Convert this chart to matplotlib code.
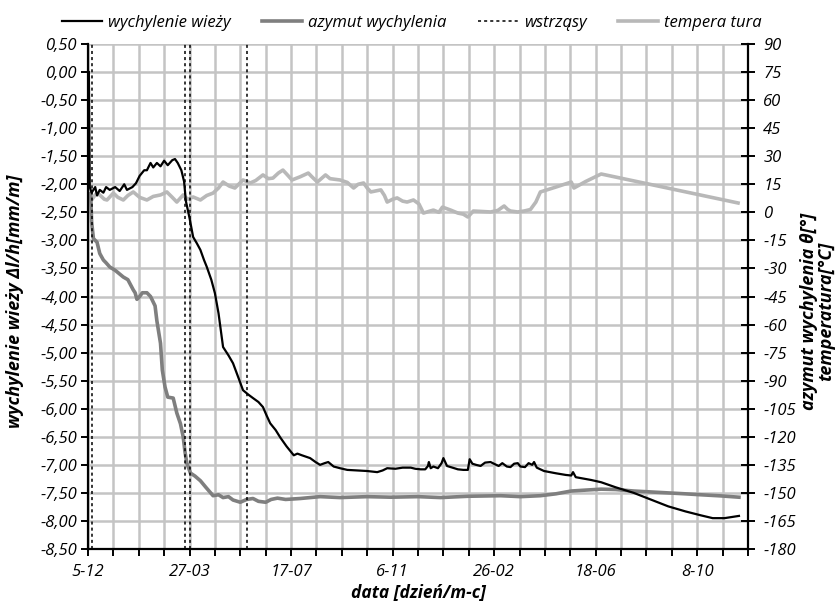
import matplotlib
matplotlib.use('Agg')
import matplotlib.pyplot as plt
import pandas as pd

# dni liczone od 5-12 (os X)
START = pd.Timestamp('2004-12-05')

tilt_days = [1, 2, 4, 8, 10, 13, 17, 20, 24, 30, 35, 40, 43, 49, 53, 57, 62, 65, 69, 72,
             76, 80, 84, 88, 93, 96, 99, 103, 106, 108, 112, 116, 120, 124, 128, 131, 136, 140,
             144, 146, 149, 155, 160, 166, 171, 177, 182, 188, 193, 197, 201, 207, 212, 219,
             227, 231, 236, 245, 251, 256, 261, 265, 271, 278, 286, 297, 308, 319, 325, 330,
             339, 347, 356, 361, 367, 372, 375, 376, 378, 381, 386, 390, 392, 396, 400, 408,
             414, 419, 421, 424, 428, 433, 438, 444, 449, 453, 457, 462, 466, 470, 474, 477,
             482, 486, 490, 492, 495, 503, 516, 527, 533, 535, 538, 555, 566, 582, 602, 621,
             640, 659, 676, 689, 702, 710, 718]
tilt = [0.00, -2.05, -2.15, -2.05, -2.20, -2.10, -2.15, -2.05, -2.10, -2.05, -2.12, -2.00,
        -2.10, -2.05, -1.98, -1.85, -1.75, -1.75, -1.62, -1.70, -1.62, -1.68, -1.58, -1.66,
        -1.57, -1.55, -1.62, -1.75, -1.95, -2.30, -2.60, -2.94, -3.05, -3.17, -3.35, -3.47,
        -3.70, -3.94, -4.30, -4.54, -4.90, -5.05, -5.19, -5.45, -5.67, -5.75, -5.81, -5.88,
        -5.97, -6.12, -6.26, -6.38, -6.51, -6.67, -6.83, -6.80, -6.83, -6.88, -6.95, -7.00,
        -6.97, -6.95, -7.03, -7.06, -7.09, -7.10, -7.11, -7.13, -7.10, -7.06, -7.07, -7.05,
        -7.05, -7.07, -7.08, -7.08, -7.02, -6.95, -7.06, -7.03, -7.06, -6.97, -6.88, -7.02,
        -7.04, -7.08, -7.09, -7.09, -6.90, -6.98, -7.00, -7.02, -6.96, -6.95, -6.99, -7.02,
        -6.97, -7.03, -7.04, -6.98, -6.97, -7.03, -7.04, -6.97, -7.00, -6.95, -7.05, -7.11,
        -7.15, -7.18, -7.19, -7.13, -7.22, -7.27, -7.31, -7.40, -7.50, -7.62, -7.74, -7.83,
        -7.90, -7.95, -7.95, -7.93, -7.91]

azim_days = [3, 4, 6, 10, 13, 17, 20, 24, 30, 35, 39, 44, 50, 52, 54, 57, 60, 65, 69, 71,
             74, 76, 80, 82, 85, 88, 94, 98, 102, 105, 107, 109, 113, 118, 124, 130, 138, 144,
             149, 155, 160, 168, 175, 182, 188, 196, 202, 209, 218, 234, 256, 278, 308, 334,
             364, 389, 419, 455, 477, 499, 516, 533, 549, 566, 582, 602, 621, 640, 659, 676,
             698, 718]
azim = [10, -5, -14, -16, -22, -25.5, -27, -29.2, -31, -33, -34.6, -36, -41.5, -43, -46.5,
        -45, -43, -43, -45, -47, -50, -58, -70, -84.3, -93.4, -98.8, -99.3, -107.3, -113,
        -120, -128, -134, -139.4, -141, -143.5, -147, -151.5, -151, -152.5, -152, -153.8,
        -155, -153.5, -153, -154.5, -155, -153.5, -152.8, -153.5, -153, -152, -152.5, -152,
        -152.3, -152, -152.5, -151.8, -151.5, -152, -151.5, -150.5, -149, -148.5, -148,
        -148.2, -149, -149.5, -150, -150.5, -151, -151.6, -152.3]

temp_days = [2, 4, 9, 13, 18, 21, 28, 33, 39, 44, 50, 57, 65, 72, 80, 87, 93, 98, 105, 110,
             116, 124, 131, 138, 144, 149, 156, 162, 171, 179, 185, 193, 199, 204, 210, 215,
             220, 225, 234, 243, 247, 253, 262, 267, 278, 286, 293, 298, 304, 308, 312, 323,
             327, 330, 336, 341, 347, 352, 359, 365, 370, 376, 381, 387, 391, 400, 408, 414,
             419, 425, 433, 444, 452, 459, 463, 466, 474, 481, 488, 494, 499, 516, 533, 536,
             549, 566, 717]
temp = [9, 6.6, 10, 9.3, 7, 6.6, 10.3, 8, 6.6, 9, 10.9, 8, 6.6, 8.5, 9.3, 10.9, 8, 5.5, 9.3,
        7, 8.2, 6.6, 9, 10.3, 13, 16.2, 14, 13, 17.3, 15.7, 17, 20, 18, 18.3, 21, 22.6, 20,
        17.3, 19, 21, 19, 16.2, 20, 18, 17.3, 16, 13, 15, 15.7, 13, 10.9, 12, 9, 5.5, 7, 7.7,
        6, 5.5, 6.6, 4.5, -0.4, 0.5, 1.2, 0, 2.8, 1.2, -0.4, -1, -2.5, 0.7, 0.5, 0.2, 1, 3.4,
        1.5, 0.7, 0.2, 0.7, 1.5, 5.5, 10.9, 13.5, 16.2, 13, 16.5, 20.5, 5]

quake_days = [4, 107, 113, 175]

left_ticks = [0.5 - 0.5 * i for i in range(19)]
right_ticks = list(range(90, -181, -15))
n_weeks = 26          # siatka co 28 dni
label_every = 4       # podpis co 112 dni


def to_dates(days):
    return START + pd.to_timedelta(days, unit='D')


plt.rcParams['font.family'] = ['Open Sans', 'DejaVu Sans']
plt.rcParams['font.style'] = 'italic'
plt.rcParams['font.size'] = 11.5

fig = plt.figure(figsize=(8.37, 6.01), dpi=100)
ax2 = fig.add_axes([0.1051, 0.0865, 0.7886, 0.8403])
ax = ax2.twinx()
ax.set_zorder(3)
ax.patch.set_visible(False)
ax.xaxis.set_visible(True)

grid_col = '#c4c4c4'
# tilt on left axis (ax, front), azimuth and temperature on right axis (ax2, back)
ax2.yaxis.tick_right()
ax2.yaxis.set_label_position('right')
ax.yaxis.tick_left()
ax.yaxis.set_label_position('left')

ax2.plot(to_dates(temp_days), temp, color='#b8b8b8', lw=2.6, solid_joinstyle='round')
ax2.plot(to_dates(azim_days), azim, color='#7f7f7f', lw=2.6, solid_joinstyle='round')
ax.plot(to_dates(tilt_days), tilt, color='black', lw=1.6)
for d in quake_days:
    ax.axvline(to_dates([d])[0], color='black', ls=(0, (2, 2)), lw=1.1)

xt = to_dates([28 * i for i in range(n_weeks + 1)])
ax.set_xlim(xt[0], xt[-1])
ax.set_xticks(xt)
ax.set_xticklabels([f"{t.day}-{t.month:02d}" if i % label_every == 0 else ''
                    for i, t in enumerate(xt)])

ax.set_ylim(-8.5, 0.5)
ax.set_yticks(left_ticks)
ax.set_yticklabels([f"{v:.2f}".replace('.', ',') for v in left_ticks])
ax2.set_ylim(-180, 90)
ax2.set_yticks(right_ticks)
ax2.set_yticklabels([str(v) for v in right_ticks])

# grid on the back axes
ax2.xaxis.set_visible(True)
ax2.tick_params(axis='x', bottom=False, top=False, labelbottom=False, labeltop=False)
ax2.grid(True, color=grid_col, lw=1.8)
ax2.set_axisbelow(True)

for s in ['top', 'left', 'bottom']:
    ax2.spines[s].set_visible(False)
ax2.spines['right'].set_linewidth(1.6)
for s in ['top', 'right']:
    ax.spines[s].set_visible(False)
ax.spines['left'].set_linewidth(1.6)
ax.spines['bottom'].set_linewidth(1.6)

ax.tick_params(axis='y', direction='out', length=5, width=1.4, labelsize=12, pad=3)
ax.tick_params(axis='x', direction='out', length=5, width=1.4, labelsize=12, pad=6)
ax2.tick_params(axis='y', direction='inout', length=10, width=1.4, labelsize=12, pad=6)

ax.set_ylabel('wychylenie wieży Δl/h[mm/m]', fontweight='bold', fontsize=13)
ax.yaxis.set_label_coords(-0.097, 0.49)
ax.set_xlabel('data [dzień/m-c]', fontweight='bold', fontsize=12.5)
ax.xaxis.set_label_coords(0.5, -0.068)
ax2.set_ylabel('azymut wychylenia θ[°]\ntemperatura[°C]', fontweight='bold',
               fontsize=13, linespacing=0.95)
ax2.yaxis.set_label_coords(1.078, 0.47)

handles = [
    plt.Line2D([], [], color='black', lw=1.6),
    plt.Line2D([], [], color='#7f7f7f', lw=2.6),
    plt.Line2D([], [], color='black', ls=(0, (2, 2)), lw=1.1),
    plt.Line2D([], [], color='#b8b8b8', lw=2.6),
]
labels = ['wychylenie wieży', 'azymut wychylenia', 'wstrząsy', 'tempera tura']
fig.legend(handles, labels, loc='center', bbox_to_anchor=(0.492, 0.962), ncol=4,
           frameon=False, fontsize=12, handlelength=2.4, handletextpad=0.35,
           columnspacing=1.9)

fig.savefig('out.png', dpi=100, facecolor='white')
